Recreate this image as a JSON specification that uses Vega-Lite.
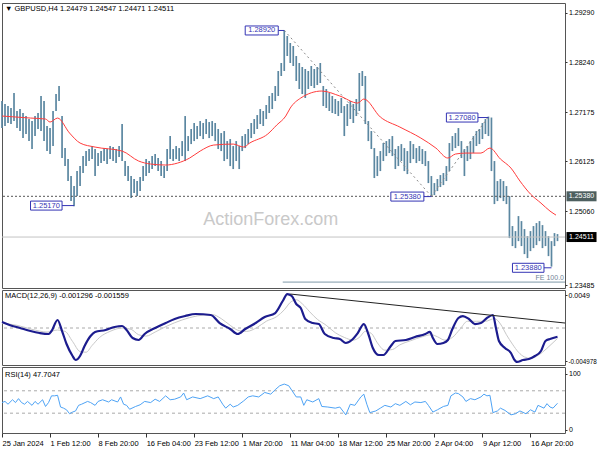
{
"$schema":"https://vega.github.io/schema/vega-lite/v6.json",
"padding":{"left":-3,"top":2,"right":0,"bottom":0},
"background":"white",
"spacing":2,
"bounds":"flush",
"config":{"view":{"stroke":"#555","strokeWidth":1},"font":"Liberation Sans","axis":{"labelFont":"Liberation Sans","labelFontSize":7,"labelColor":"#000","tickColor":"#333","domain":false,"grid":false,"title":null,"tickSize":2,"labelPadding":1.5,"labelOverlap":false}},
"datasets":{
"bars":[{"i":0,"h":1.27412,"l":1.26836},{"i":2,"h":1.27348,"l":1.26879},{"i":4,"h":1.27305,"l":1.26943},{"i":6,"h":1.27263,"l":1.26921},{"i":8,"h":1.27583,"l":1.26985},{"i":10,"h":1.27199,"l":1.26836},{"i":12,"h":1.27241,"l":1.26772},{"i":14,"h":1.27156,"l":1.26622},{"i":16,"h":1.27092,"l":1.26708},{"i":18,"h":1.27028,"l":1.26558},{"i":20,"h":1.26985,"l":1.26388},{"i":22,"h":1.27092,"l":1.26665},{"i":24,"h":1.27156,"l":1.26815},{"i":26,"h":1.27519,"l":1.26772},{"i":28,"h":1.27412,"l":1.26558},{"i":30,"h":1.26879,"l":1.26345},{"i":32,"h":1.26836,"l":1.26281},{"i":34,"h":1.27199,"l":1.26452},{"i":36,"h":1.27561,"l":1.27199},{"i":38,"h":1.27732,"l":1.27412},{"i":40,"h":1.27092,"l":1.26196},{"i":42,"h":1.26409,"l":1.26025},{"i":44,"h":1.26174,"l":1.25705},{"i":46,"h":1.25812,"l":1.25278},{"i":48,"h":1.25598,"l":1.2517},{"i":50,"h":1.25918,"l":1.25385},{"i":52,"h":1.26025,"l":1.25598},{"i":54,"h":1.26238,"l":1.25876},{"i":56,"h":1.26345,"l":1.26025},{"i":58,"h":1.26388,"l":1.26132},{"i":60,"h":1.26452,"l":1.26174},{"i":62,"h":1.26388,"l":1.25812},{"i":64,"h":1.26302,"l":1.26025},{"i":66,"h":1.26345,"l":1.26089},{"i":68,"h":1.26409,"l":1.26132},{"i":70,"h":1.26388,"l":1.26068},{"i":72,"h":1.26452,"l":1.26174},{"i":74,"h":1.2643,"l":1.26132},{"i":76,"h":1.26388,"l":1.26089},{"i":78,"h":1.26452,"l":1.26217},{"i":80,"h":1.26921,"l":1.26132},{"i":82,"h":1.26132,"l":1.25812},{"i":84,"h":1.26025,"l":1.25705},{"i":86,"h":1.25812,"l":1.25342},{"i":88,"h":1.25748,"l":1.25449},{"i":90,"h":1.25705,"l":1.25385},{"i":92,"h":1.2579,"l":1.25491},{"i":94,"h":1.26025,"l":1.25705},{"i":96,"h":1.26174,"l":1.25812},{"i":98,"h":1.26132,"l":1.25876},{"i":100,"h":1.26238,"l":1.25961},{"i":102,"h":1.26281,"l":1.26025},{"i":104,"h":1.26196,"l":1.25918},{"i":106,"h":1.26132,"l":1.25812},{"i":108,"h":1.26025,"l":1.25769},{"i":110,"h":1.26388,"l":1.25918},{"i":112,"h":1.26665,"l":1.26174},{"i":114,"h":1.26388,"l":1.26132},{"i":116,"h":1.26452,"l":1.26174},{"i":118,"h":1.26409,"l":1.26132},{"i":120,"h":1.26558,"l":1.26238},{"i":122,"h":1.27092,"l":1.26132},{"i":124,"h":1.26665,"l":1.26345},{"i":126,"h":1.26815,"l":1.26494},{"i":128,"h":1.26943,"l":1.26558},{"i":130,"h":1.26879,"l":1.26601},{"i":132,"h":1.26985,"l":1.26665},{"i":134,"h":1.26943,"l":1.26601},{"i":136,"h":1.27028,"l":1.26708},{"i":138,"h":1.26964,"l":1.26622},{"i":140,"h":1.26985,"l":1.26665},{"i":142,"h":1.26943,"l":1.26558},{"i":144,"h":1.26815,"l":1.26388},{"i":146,"h":1.26729,"l":1.26345},{"i":148,"h":1.26772,"l":1.26132},{"i":150,"h":1.26558,"l":1.26174},{"i":152,"h":1.26601,"l":1.26025},{"i":154,"h":1.26452,"l":1.25961},{"i":156,"h":1.26558,"l":1.26132},{"i":158,"h":1.26452,"l":1.25961},{"i":160,"h":1.26665,"l":1.26345},{"i":162,"h":1.26708,"l":1.26409},{"i":164,"h":1.26815,"l":1.26494},{"i":166,"h":1.26943,"l":1.26622},{"i":168,"h":1.27028,"l":1.26708},{"i":170,"h":1.27113,"l":1.26815},{"i":172,"h":1.27241,"l":1.26921},{"i":174,"h":1.27199,"l":1.26879},{"i":176,"h":1.27327,"l":1.27028},{"i":178,"h":1.27519,"l":1.27156},{"i":180,"h":1.27583,"l":1.27241},{"i":182,"h":1.27732,"l":1.27412},{"i":184,"h":1.28052,"l":1.27519},{"i":186,"h":1.28223,"l":1.27946},{"i":188,"h":1.2892,"l":1.28052},{"i":190,"h":1.28799,"l":1.28372},{"i":192,"h":1.2865,"l":1.28223},{"i":194,"h":1.28586,"l":1.28159},{"i":196,"h":1.28372,"l":1.27839},{"i":198,"h":1.28223,"l":1.27668},{"i":200,"h":1.28138,"l":1.27561},{"i":202,"h":1.28095,"l":1.27476},{"i":204,"h":1.28052,"l":1.27668},{"i":206,"h":1.28159,"l":1.27732},{"i":208,"h":1.28095,"l":1.27689},{"i":210,"h":1.28138,"l":1.27753},{"i":212,"h":1.28223,"l":1.27796},{"i":214,"h":1.27732,"l":1.27305},{"i":216,"h":1.27668,"l":1.27263},{"i":218,"h":1.27583,"l":1.27199},{"i":220,"h":1.27519,"l":1.27156},{"i":222,"h":1.27455,"l":1.27135},{"i":224,"h":1.27412,"l":1.27092},{"i":226,"h":1.27476,"l":1.27156},{"i":228,"h":1.27305,"l":1.26665},{"i":230,"h":1.27348,"l":1.26879},{"i":232,"h":1.27412,"l":1.27028},{"i":234,"h":1.27348,"l":1.26943},{"i":236,"h":1.27455,"l":1.27092},{"i":238,"h":1.2801,"l":1.27199},{"i":240,"h":1.28052,"l":1.27732},{"i":242,"h":1.27946,"l":1.26921},{"i":244,"h":1.26985,"l":1.26558},{"i":246,"h":1.26772,"l":1.26388},{"i":248,"h":1.26409,"l":1.25769},{"i":250,"h":1.26238,"l":1.25812},{"i":252,"h":1.26345,"l":1.25918},{"i":254,"h":1.26516,"l":1.26132},{"i":256,"h":1.26558,"l":1.26238},{"i":258,"h":1.26601,"l":1.26302},{"i":260,"h":1.26665,"l":1.26238},{"i":262,"h":1.26388,"l":1.25961},{"i":264,"h":1.26452,"l":1.26025},{"i":266,"h":1.26494,"l":1.26132},{"i":268,"h":1.26409,"l":1.25918},{"i":270,"h":1.26345,"l":1.25854},{"i":272,"h":1.26558,"l":1.26089},{"i":274,"h":1.26494,"l":1.26174},{"i":276,"h":1.26409,"l":1.26089},{"i":278,"h":1.26452,"l":1.26132},{"i":280,"h":1.26388,"l":1.26068},{"i":282,"h":1.26345,"l":1.26025},{"i":284,"h":1.26132,"l":1.25662},{"i":286,"h":1.25812,"l":1.2538},{"i":288,"h":1.25662,"l":1.25406},{"i":290,"h":1.25748,"l":1.25491},{"i":292,"h":1.25833,"l":1.25577},{"i":294,"h":1.25876,"l":1.25619},{"i":296,"h":1.26025,"l":1.25705},{"i":298,"h":1.26516,"l":1.25918},{"i":300,"h":1.26665,"l":1.26345},{"i":302,"h":1.26729,"l":1.26409},{"i":304,"h":1.26836,"l":1.26452},{"i":306,"h":1.26558,"l":1.26196},{"i":308,"h":1.26388,"l":1.25812},{"i":310,"h":1.26452,"l":1.26132},{"i":312,"h":1.26558,"l":1.26174},{"i":314,"h":1.26665,"l":1.26302},{"i":316,"h":1.26772,"l":1.26452},{"i":318,"h":1.26815,"l":1.26494},{"i":320,"h":1.26943,"l":1.26601},{"i":322,"h":1.27028,"l":1.26708},{"i":324,"h":1.2708,"l":1.26665},{"i":326,"h":1.2706,"l":1.25918},{"i":328,"h":1.26132,"l":1.25214},{"i":330,"h":1.25705,"l":1.25278},{"i":332,"h":1.25748,"l":1.25342},{"i":334,"h":1.25705,"l":1.25278},{"i":336,"h":1.25598,"l":1.25214},{"i":338,"h":1.25385,"l":1.24488},{"i":340,"h":1.24745,"l":1.24318},{"i":342,"h":1.24638,"l":1.24275},{"i":344,"h":1.24958,"l":1.24424},{"i":346,"h":1.24851,"l":1.24318},{"i":348,"h":1.24681,"l":1.24147},{"i":350,"h":1.24531,"l":1.24062},{"i":352,"h":1.24638,"l":1.24211},{"i":354,"h":1.24745,"l":1.24275},{"i":356,"h":1.24809,"l":1.24339},{"i":358,"h":1.24851,"l":1.24424},{"i":360,"h":1.24766,"l":1.24275},{"i":362,"h":1.24638,"l":1.24318},{"i":364,"h":1.24531,"l":1.24104},{"i":366,"h":1.24424,"l":1.2388},{"i":368,"h":1.24595,"l":1.24318},{"i":370,"h":1.24574,"l":1.24424}],
"ma":[{"i":0,"m":1.27092},{"i":19,"m":1.27049},{"i":29,"m":1.27028},{"i":32,"m":1.26964},{"i":37,"m":1.27049},{"i":45,"m":1.26729},{"i":52,"m":1.26516},{"i":62,"m":1.2643},{"i":80,"m":1.26345},{"i":91,"m":1.26132},{"i":99,"m":1.26068},{"i":109,"m":1.26047},{"i":117,"m":1.26089},{"i":125,"m":1.26196},{"i":132,"m":1.26345},{"i":141,"m":1.26473},{"i":154,"m":1.26494},{"i":161,"m":1.2643},{"i":165,"m":1.26516},{"i":177,"m":1.26708},{"i":183,"m":1.269},{"i":189,"m":1.27092},{"i":192,"m":1.27263},{"i":199,"m":1.27476},{"i":213,"m":1.27625},{"i":225,"m":1.27519},{"i":237,"m":1.27369},{"i":241,"m":1.27455},{"i":252,"m":1.27071},{"i":265,"m":1.26857},{"i":279,"m":1.26622},{"i":289,"m":1.26409},{"i":297,"m":1.26196},{"i":302,"m":1.26281},{"i":309,"m":1.26302},{"i":319,"m":1.26302},{"i":325,"m":1.26409},{"i":332,"m":1.26174},{"i":339,"m":1.25982},{"i":345,"m":1.25705},{"i":352,"m":1.25428},{"i":359,"m":1.25235},{"i":365,"m":1.25065},{"i":369,"m":1.24979}],
"macd":[{"i":0,"v":0.00089},{"i":5,"v":0.00045},{"i":12,"v":0},{"i":19,"v":-0.00045},{"i":25,"v":-0.00074},{"i":31,"v":-0.00089},{"i":33,"v":-0.00045},{"i":37,"v":0.00119},{"i":40,"v":-0.00045},{"i":43,"v":-0.00238},{"i":47,"v":-0.00416},{"i":49,"v":-0.00476},{"i":52,"v":-0.00416},{"i":55,"v":-0.00267},{"i":59,"v":-0.00119},{"i":62,"v":-0.00059},{"i":69,"v":-0.0003},{"i":75,"v":0.00015},{"i":80,"v":0.0003},{"i":83,"v":-0.0003},{"i":87,"v":-0.00149},{"i":91,"v":-0.00178},{"i":95,"v":-0.00089},{"i":102,"v":0},{"i":109,"v":0.00074},{"i":115,"v":0.00134},{"i":122,"v":0.00178},{"i":129,"v":0.00208},{"i":139,"v":0.00193},{"i":145,"v":0.00074},{"i":152,"v":-0.00015},{"i":157,"v":-0.00089},{"i":162,"v":-0.00015},{"i":169,"v":0.00074},{"i":175,"v":0.00163},{"i":182,"v":0.00223},{"i":187,"v":0.00401},{"i":190,"v":0.00505},{"i":193,"v":0.00476},{"i":196,"v":0.00357},{"i":199,"v":0.00297},{"i":202,"v":0.00134},{"i":207,"v":0.00074},{"i":211,"v":0.00059},{"i":215,"v":-0.00089},{"i":221,"v":-0.00149},{"i":225,"v":-0.00163},{"i":229,"v":-0.00223},{"i":233,"v":-0.00178},{"i":237,"v":-0.00074},{"i":241,"v":0.00059},{"i":244,"v":-0.00089},{"i":247,"v":-0.00297},{"i":251,"v":-0.00401},{"i":254,"v":-0.00401},{"i":259,"v":-0.00267},{"i":262,"v":-0.00193},{"i":269,"v":-0.00178},{"i":275,"v":-0.00134},{"i":282,"v":-0.00089},{"i":285,"v":-0.00059},{"i":287,"v":-0.00149},{"i":290,"v":-0.00238},{"i":294,"v":-0.00223},{"i":297,"v":-0.00178},{"i":300,"v":-0.00015},{"i":304,"v":0.00149},{"i":307,"v":0.00178},{"i":311,"v":0.00134},{"i":315,"v":0.00059},{"i":319,"v":0.00074},{"i":323,"v":0.00149},{"i":327,"v":0.00193},{"i":329,"v":0},{"i":331,"v":-0.00193},{"i":335,"v":-0.00297},{"i":339,"v":-0.00372},{"i":341,"v":-0.00461},{"i":343,"v":-0.00505},{"i":347,"v":-0.00476},{"i":351,"v":-0.00461},{"i":355,"v":-0.00416},{"i":359,"v":-0.00342},{"i":362,"v":-0.00193},{"i":365,"v":-0.00163},{"i":370,"v":-0.0013}],
"sig":[{"i":0,"s":0.0007},{"i":10,"s":0.0004},{"i":20,"s":-0.0002},{"i":30,"s":-0.0006},{"i":37,"s":-0.0003},{"i":42,"s":-0.0005},{"i":47,"s":-0.002},{"i":52,"s":-0.0035},{"i":56,"s":-0.0036},{"i":60,"s":-0.0026},{"i":65,"s":-0.0014},{"i":72,"s":-0.0005},{"i":80,"s":0},{"i":86,"s":-0.0002},{"i":91,"s":-0.001},{"i":96,"s":-0.0012},{"i":102,"s":-0.0006},{"i":110,"s":0.0003},{"i":120,"s":0.0012},{"i":130,"s":0.0018},{"i":140,"s":0.002},{"i":146,"s":0.0014},{"i":152,"s":0.0004},{"i":158,"s":-0.0004},{"i":163,"s":-0.0005},{"i":170,"s":0.0001},{"i":176,"s":0.001},{"i":183,"s":0.0017},{"i":188,"s":0.0027},{"i":192,"s":0.0038},{"i":196,"s":0.0042},{"i":200,"s":0.0036},{"i":205,"s":0.0024},{"i":210,"s":0.0013},{"i":216,"s":0.0004},{"i":222,"s":-0.0007},{"i":228,"s":-0.0014},{"i":234,"s":-0.0018},{"i":238,"s":-0.0014},{"i":242,"s":-0.0005},{"i":246,"s":-0.0008},{"i":250,"s":-0.0022},{"i":255,"s":-0.0033},{"i":260,"s":-0.0032},{"i":265,"s":-0.0025},{"i":272,"s":-0.0019},{"i":280,"s":-0.0013},{"i":286,"s":-0.001},{"i":290,"s":-0.0013},{"i":295,"s":-0.0018},{"i":300,"s":-0.0014},{"i":305,"s":-0.0002},{"i":310,"s":0.001},{"i":316,"s":0.001},{"i":322,"s":0.001},{"i":328,"s":0.0014},{"i":332,"s":0.0006},{"i":336,"s":-0.001},{"i":340,"s":-0.0024},{"i":344,"s":-0.0036},{"i":348,"s":-0.0043},{"i":352,"s":-0.0045},{"i":356,"s":-0.0042},{"i":360,"s":-0.0036},{"i":365,"s":-0.0026},{"i":370,"s":-0.00156}],
"rsi":[{"i":0,"r":49},{"i":2,"r":51},{"i":4,"r":46},{"i":7,"r":54},{"i":9,"r":49},{"i":11,"r":56},{"i":13,"r":49},{"i":15,"r":46},{"i":17,"r":51},{"i":20,"r":44},{"i":22,"r":51},{"i":24,"r":46},{"i":27,"r":54},{"i":29,"r":42},{"i":31,"r":49},{"i":33,"r":61},{"i":35,"r":61},{"i":37,"r":62},{"i":39,"r":41},{"i":41,"r":39},{"i":43,"r":36},{"i":45,"r":29},{"i":47,"r":32},{"i":49,"r":34},{"i":51,"r":44},{"i":53,"r":46},{"i":57,"r":51},{"i":59,"r":49},{"i":62,"r":44},{"i":64,"r":51},{"i":67,"r":54},{"i":71,"r":50},{"i":73,"r":54},{"i":77,"r":50},{"i":79,"r":59},{"i":81,"r":46},{"i":83,"r":44},{"i":85,"r":37},{"i":89,"r":42},{"i":92,"r":45},{"i":95,"r":51},{"i":99,"r":49},{"i":102,"r":55},{"i":105,"r":51},{"i":109,"r":61},{"i":112,"r":54},{"i":115,"r":55},{"i":119,"r":59},{"i":121,"r":66},{"i":123,"r":54},{"i":127,"r":59},{"i":132,"r":56},{"i":137,"r":61},{"i":141,"r":56},{"i":144,"r":59},{"i":147,"r":46},{"i":149,"r":39},{"i":152,"r":46},{"i":154,"r":41},{"i":157,"r":44},{"i":161,"r":52},{"i":164,"r":59},{"i":167,"r":61},{"i":171,"r":59},{"i":175,"r":67},{"i":179,"r":64},{"i":182,"r":72},{"i":185,"r":79},{"i":188,"r":82},{"i":191,"r":79},{"i":193,"r":71},{"i":196,"r":59},{"i":199,"r":59},{"i":201,"r":44},{"i":203,"r":54},{"i":207,"r":50},{"i":211,"r":56},{"i":213,"r":42},{"i":217,"r":41},{"i":222,"r":39},{"i":225,"r":41},{"i":229,"r":27},{"i":232,"r":46},{"i":235,"r":44},{"i":239,"r":59},{"i":241,"r":64},{"i":243,"r":46},{"i":245,"r":31},{"i":249,"r":34},{"i":252,"r":39},{"i":255,"r":44},{"i":259,"r":41},{"i":262,"r":47},{"i":265,"r":44},{"i":269,"r":51},{"i":272,"r":45},{"i":275,"r":50},{"i":279,"r":49},{"i":282,"r":51},{"i":284,"r":44},{"i":287,"r":32},{"i":290,"r":36},{"i":294,"r":42},{"i":297,"r":44},{"i":299,"r":61},{"i":302,"r":66},{"i":304,"r":65},{"i":307,"r":59},{"i":309,"r":51},{"i":312,"r":56},{"i":315,"r":54},{"i":319,"r":59},{"i":321,"r":64},{"i":323,"r":61},{"i":325,"r":62},{"i":327,"r":31},{"i":330,"r":34},{"i":332,"r":39},{"i":335,"r":35},{"i":339,"r":27},{"i":342,"r":29},{"i":345,"r":34},{"i":349,"r":29},{"i":352,"r":36},{"i":355,"r":32},{"i":357,"r":44},{"i":361,"r":39},{"i":363,"r":47},{"i":365,"r":41},{"i":367,"r":39},{"i":370,"r":47.7}],
"ann":[{"t":"1.28920","a":162,"b":184,"c":188,"m":173,"p1":1.29013,"p2":1.28821,"pc":1.28917},{"t":"1.25170","a":19,"b":40,"c":48,"m":29.5,"p1":1.25278,"p2":1.25086,"pc":1.25182},{"t":"1.25380","a":259,"b":281,"c":286,"m":270,"p1":1.2547,"p2":1.25278,"pc":1.25374},{"t":"1.27080","a":296,"b":317,"c":324,"m":306.5,"p1":1.27156,"p2":1.26964,"pc":1.2706},{"t":"1.23880","a":340,"b":361,"c":366,"m":350.5,"p1":1.23951,"p2":1.23759,"pc":1.23855}],
"trend":[{"i":188,"p":1.2892,"g":"a"},{"i":286,"p":1.2538,"g":"a"},{"i":286,"p":1.2538,"g":"b"},{"i":324,"p":1.2708,"g":"b"}],
"tags":[{"t":"1.25380","p":1.2538,"a":376,"b":396,"m":386,"k":"lvl"},{"t":"1.24511","p":1.24511,"a":376,"b":396,"m":386,"k":"cur"}]
},
"vconcat":[
{"width":563,"height":285,
"layer":[
{"data":{"name":"bars"},"mark":{"type":"rule","color":"#5b87a1","strokeWidth":1.7},
 "encoding":{"x":{"field":"i","type":"quantitative","scale":{"domain":[0,375],"nice":false,"zero":false},"axis":null},
 "y":{"field":"h","type":"quantitative","scale":{"domain":[1.23424,1.29503],"nice":false,"zero":false},
  "axis":{"orient":"right","values":[1.2929,1.28765,1.2824,1.277,1.27175,1.2665,1.26125,1.25585,1.2506,1.2401,1.23485],"format":".5f"}},
 "y2":{"field":"l"}}},
{"data":{"values":[{"p":1.2538}]},"mark":{"type":"rule","color":"#555","strokeDash":[2,2],"strokeWidth":1},"encoding":{"y":{"field":"p","type":"quantitative"}}},
{"data":{"values":[{"p":1.24511}]},"mark":{"type":"rule","color":"#c4c4c4","strokeWidth":1},"encoding":{"y":{"field":"p","type":"quantitative"}}},
{"data":{"values":[{"a":187,"b":375,"p":1.2355}]},"mark":{"type":"rule","color":"#7f98a8","strokeWidth":1},"encoding":{"x":{"field":"a","type":"quantitative"},"x2":{"field":"b"},"y":{"field":"p","type":"quantitative"}}},
{"data":{"values":[{"t":"FE 100.0","i":375,"p":1.2363}]},"mark":{"type":"text","align":"right","baseline":"middle","fontSize":7,"color":"#6f8596","dx":-1},"encoding":{"x":{"field":"i","type":"quantitative"},"y":{"field":"p","type":"quantitative"},"text":{"field":"t"}}},
{"data":{"values":[{"t":"ActionForex.com","i":179,"p":1.24872}]},"mark":{"type":"text","align":"center","baseline":"middle","fontSize":18,"color":"#c9c9c9"},"encoding":{"x":{"field":"i","type":"quantitative"},"y":{"field":"p","type":"quantitative"},"text":{"field":"t"}}},
{"data":{"name":"trend"},"mark":{"type":"line","color":"#8a8a8a","strokeDash":[2,3],"strokeWidth":1},"encoding":{"x":{"field":"i","type":"quantitative"},"y":{"field":"p","type":"quantitative"},"detail":{"field":"g"}}},
{"data":{"name":"ma"},"mark":{"type":"line","color":"#ff3c3c","strokeWidth":1,"interpolate":"monotone"},"encoding":{"x":{"field":"i","type":"quantitative"},"y":{"field":"m","type":"quantitative"}}},
{"data":{"name":"ann"},"mark":{"type":"rule","color":"#3434b4","strokeWidth":1},"encoding":{"x":{"field":"b","type":"quantitative"},"x2":{"field":"c"},"y":{"field":"pc","type":"quantitative"}}},
{"data":{"name":"ann"},"mark":{"type":"rect","fill":"white","stroke":"#3434b4","strokeWidth":1},"encoding":{"x":{"field":"a","type":"quantitative"},"x2":{"field":"b"},"y":{"field":"p1","type":"quantitative"},"y2":{"field":"p2"}}},
{"data":{"name":"ann"},"mark":{"type":"text","align":"center","baseline":"middle","fontSize":7.5,"color":"#3434b4"},"encoding":{"x":{"field":"m","type":"quantitative"},"y":{"field":"pc","type":"quantitative"},"text":{"field":"t"}}},
{"data":{"name":"tags"},"mark":{"type":"rule","clip":false,"strokeWidth":10,"strokeCap":"butt"},"encoding":{"x":{"field":"a","type":"quantitative"},"x2":{"field":"b"},"y":{"field":"p","type":"quantitative"},"color":{"field":"k","type":"nominal","scale":{"domain":["lvl","cur"],"range":["#4d5f5f","#000000"]},"legend":null}}},
{"data":{"name":"tags"},"mark":{"type":"text","align":"center","baseline":"middle","fontSize":7,"color":"white","clip":false},"encoding":{"x":{"field":"m","type":"quantitative"},"y":{"field":"p","type":"quantitative"},"text":{"field":"t"}}},
{"data":{"values":[{"t":"▼ GBPUSD,H4  1.24479 1.24547 1.24471 1.24511","i":2,"p":1.29375}]},"mark":{"type":"text","align":"left","baseline":"middle","fontSize":7.5,"color":"#000"},"encoding":{"x":{"field":"i","type":"quantitative"},"y":{"field":"p","type":"quantitative"},"text":{"field":"t"}}}
]},
{"width":563,"height":75,
"layer":[
{"data":{"values":[{"v":0}]},"mark":{"type":"rule","color":"#aaa","strokeDash":[3,3],"strokeWidth":1},
 "encoding":{"y":{"field":"v","type":"quantitative","scale":{"domain":[-0.0055,0.00565],"nice":false,"zero":false},
 "axis":{"orient":"right","values":[0.0049,0,-0.004978],"labelPadding":1,"labelFontSize":{"expr":"datum.value < 0 ? 6.3 : 7"},"labelExpr":"datum.value == 0 ? '0.00' : (datum.value > 0 ? '0.0049' : '-0.004978')"}}}},
{"data":{"name":"sig"},"mark":{"type":"line","color":"#c8c8c8","strokeWidth":1,"interpolate":"monotone"},"encoding":{"x":{"field":"i","type":"quantitative","scale":{"domain":[0,375],"nice":false,"zero":false},"axis":null},"y":{"field":"s","type":"quantitative"}}},
{"data":{"name":"macd"},"mark":{"type":"line","color":"#1c1c8e","strokeWidth":2.2,"interpolate":"monotone"},"encoding":{"x":{"field":"i","type":"quantitative"},"y":{"field":"v","type":"quantitative"}}},
{"data":{"values":[{"i":192,"v":0.00505},{"i":375,"v":0.00074}]},"mark":{"type":"line","color":"#222","strokeWidth":1},"encoding":{"x":{"field":"i","type":"quantitative"},"y":{"field":"v","type":"quantitative"}}},
{"data":{"values":[{"t":"MACD(12,26,9) -0.001296 -0.001559","i":2,"v":0.0047}]},"mark":{"type":"text","align":"left","baseline":"middle","fontSize":7.5,"color":"#000"},"encoding":{"x":{"field":"i","type":"quantitative"},"y":{"field":"v","type":"quantitative"},"text":{"field":"t"}}}
]},
{"width":563,"height":66,
"layer":[
{"data":{"values":[{"r":70},{"r":30}]},"mark":{"type":"rule","color":"#aaa","strokeDash":[3,3],"strokeWidth":1},
 "encoding":{"y":{"field":"r","type":"quantitative","scale":{"domain":[-5.4,112.5],"nice":false,"zero":false},"axis":{"orient":"right","values":[100,70,30,0]}}}},
{"data":{"name":"rsi"},"mark":{"type":"line","color":"#4ea3f5","strokeWidth":1},
 "encoding":{"x":{"field":"i","type":"quantitative","scale":{"domain":[0,375],"nice":false,"zero":false},
  "axis":{"orient":"bottom","values":[0,32,64,96,128,160,192,224,256,288,320,352],"labelAlign":"left","labelPadding":2,"tickSize":4,"labelFlush":false,"labelFontSize":7.5,
  "labelExpr":"['25 Jan 2024','1 Feb 12:00','8 Feb 20:00','16 Feb 04:00','23 Feb 12:00','1 Mar 20:00','11 Mar 04:00','18 Mar 12:00','25 Mar 20:00','2 Apr 04:00','9 Apr 12:00','16 Apr 20:00'][round(datum.value/32)]"}},
 "y":{"field":"r","type":"quantitative"}}},
{"data":{"values":[{"t":"RSI(14) 47.7047","i":2,"r":98}]},"mark":{"type":"text","align":"left","baseline":"middle","fontSize":7.5,"color":"#000"},"encoding":{"x":{"field":"i","type":"quantitative"},"y":{"field":"r","type":"quantitative"},"text":{"field":"t"}}}
]}
]
}
